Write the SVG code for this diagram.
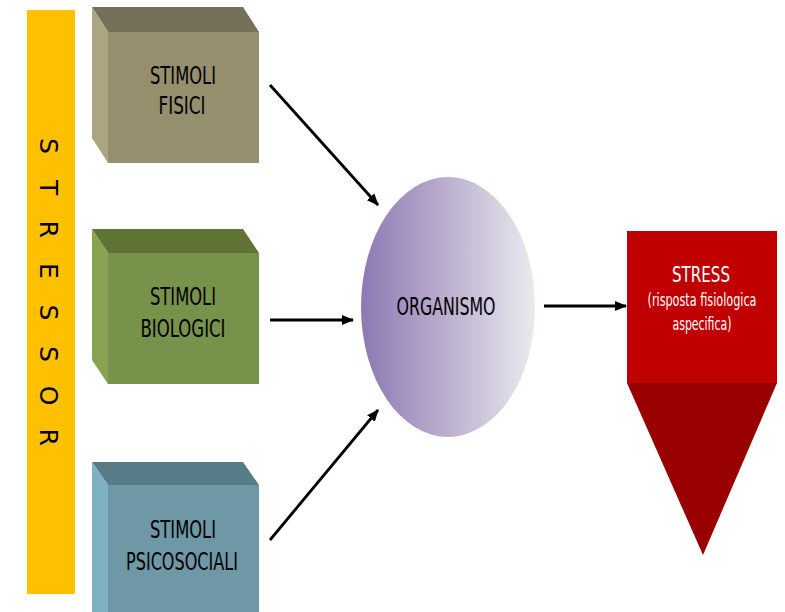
<svg xmlns="http://www.w3.org/2000/svg" width="785" height="612" viewBox="0 0 785 612">
<style>
.lbl{font-family:"Liberation Sans Narrow","DejaVu Sans Condensed","Liberation Sans",sans-serif;font-size:24px;fill:#000;text-anchor:middle}
.wl{font-family:"Liberation Sans Narrow","DejaVu Sans Condensed","Liberation Sans",sans-serif;fill:#fff;text-anchor:middle}
.conn{stroke:#000;stroke-width:2.8;fill:none;marker-end:url(#ah)}
</style>
<defs>
<marker id="ah" markerWidth="13" markerHeight="12" refX="11" refY="6" orient="auto" markerUnits="userSpaceOnUse">
<path d="M0,1 L12,6 L0,11 Z" fill="#000"/>
</marker>
<linearGradient id="og" x1="0" y1="0" x2="1" y2="0">
<stop offset="0" stop-color="#8D78B3"/>
<stop offset="0.5" stop-color="#BCB0CF"/>
<stop offset="1" stop-color="#E9EBEE"/>
</linearGradient>
</defs>
<rect width="785" height="612" fill="#fff"/>
<g id="stressor">
<rect x="27" y="10" width="48" height="584" fill="#FFC000"/>
<text transform="rotate(90)" y="-40" x="146 187.6 229.2 270.8 312.4 354 395.6 437.2" style="font-family:'DejaVu Sans',sans-serif;font-size:25px;text-anchor:middle" fill="#000">STRESSOR</text>
</g>
<g id="fisici">
<polygon points="92,7 243,7 259,32 108,32" fill="#75705A"/>
<polygon points="92,7 108,32 108,163 92,138" fill="#ACA582"/>
<rect x="108" y="32" width="151" height="131" fill="#958F6E"/>
<text class="lbl" x="183" y="84" textLength="66" lengthAdjust="spacingAndGlyphs">STIMOLI</text>
<text class="lbl" x="182" y="114" textLength="47" lengthAdjust="spacingAndGlyphs">FISICI</text>
</g>
<g id="biologici">
<polygon points="92,229 243,229 259,253 108,253" fill="#5F7337"/>
<polygon points="92,229 108,253 108,384 92,360" fill="#87A350"/>
<rect x="108" y="253" width="151" height="131" fill="#77924A"/>
<text class="lbl" x="183" y="305" textLength="66" lengthAdjust="spacingAndGlyphs">STIMOLI</text>
<text class="lbl" x="183" y="337" textLength="85" lengthAdjust="spacingAndGlyphs">BIOLOGICI</text>
</g>
<g id="psicosociali">
<polygon points="92,462 243,462 259,485 108,485" fill="#587C87"/>
<polygon points="92,462 108,485 108,612 92,612" fill="#7EB1C1"/>
<rect x="108" y="485" width="151" height="127" fill="#6E98A6"/>
<text class="lbl" x="183" y="538" textLength="66" lengthAdjust="spacingAndGlyphs">STIMOLI</text>
<text class="lbl" x="182" y="570" textLength="112" lengthAdjust="spacingAndGlyphs">PSICOSOCIALI</text>
</g>
<g id="organismo">
<ellipse cx="448" cy="307" rx="87" ry="130" fill="url(#og)"/>
<text class="lbl" x="446" y="315" textLength="99" lengthAdjust="spacingAndGlyphs">ORGANISMO</text>
</g>
<g id="stress">
<polygon points="627,383 777,383 703,555" fill="#990000"/>
<rect x="627" y="231" width="150" height="152" fill="#C00000"/>
<text class="wl" x="701" y="282" font-size="22" textLength="58" lengthAdjust="spacingAndGlyphs">STRESS</text>
<text class="wl" x="702" y="306" font-size="17" textLength="109" lengthAdjust="spacingAndGlyphs">(risposta fisiologica</text>
<text class="wl" x="702" y="330" font-size="17" textLength="59" lengthAdjust="spacingAndGlyphs">aspecifica)</text>
</g>
<g id="connectors">
<line class="conn" x1="270" y1="85" x2="378" y2="205"/>
<line class="conn" x1="270" y1="320" x2="353" y2="320"/>
<line class="conn" x1="270" y1="540" x2="378" y2="410"/>
<line class="conn" x1="544" y1="306" x2="626" y2="306"/>
</g>
</svg>
